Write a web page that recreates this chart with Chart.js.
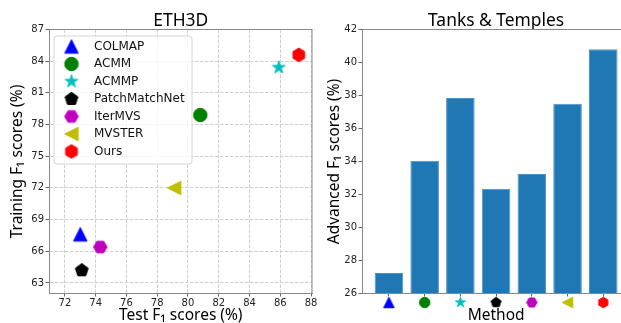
<!DOCTYPE html>
<html>
<head>
<meta charset="utf-8">
<script src="https://cdn.jsdelivr.net/npm/chart.js@4.4.1/dist/chart.umd.min.js"></script>
<style>
  html, body { margin: 0; padding: 0; background: #fff; overflow: hidden; }
  #wrap { position: relative; width: 621px; height: 323px; overflow: hidden; }
  canvas { position: absolute; top: 0; }
  #eth { left: 0; }
  #tnt { left: 320px; }
</style>
</head>
<body>
<div id="wrap">
  <canvas id="eth" width="320" height="323"></canvas>
  <canvas id="tnt" width="320" height="323"></canvas>
</div>
<script>
// methods, same order in both panels
var methods = ["COLMAP", "ACMM", "ACMMP", "PatchMatchNet", "IterMVS", "MVSTER", "Ours"];

// ETH3D: test / training F1 (%)
var testF1 = [73.0, 80.8, 85.9, 73.1, 74.3, 79.1, 87.2];
var trainF1 = [67.6, 78.9, 83.4, 64.2, 66.4, 72.0, 84.6];

// Tanks & Temples advanced F1 (%)
var tntF1 = [27.25, 34.05, 37.85, 32.35, 33.25, 37.5, 40.8];

// tick labels
var ethXTicks = [72, 74, 76, 78, 80, 82, 84, 86, 88];
var ethYTicks = [63, 66, 69, 72, 75, 78, 81, 84, 87];
var tntYTicks = [26, 28, 30, 32, 34, 36, 38, 40, 42];

// marker shape + colour per method (matplotlib style codes)
var markerShapes = ["^", "o", "*", "p", "H", "<", "h"];
var markerColors = ["#0000ff", "#008000", "#00bfbf", "#000000", "#bf00bf", "#bfbf00", "#ff0000"];

function makeMarker(shape, color, size) {
    var s = Math.ceil(size) + 4;
    var c = document.createElement("canvas");
    c.width = s;
    c.height = s;
    var g = c.getContext("2d");
    var r = size / 2;
    g.translate(s / 2, s / 2);
    g.beginPath();
    if (shape === "o") {
        g.arc(0, 0, r, 0, Math.PI * 2);
    } else if (shape === "^") {
        g.moveTo(0, -r); g.lineTo(r, r); g.lineTo(-r, r);
    } else if (shape === "<") {
        g.moveTo(-r, 0); g.lineTo(r, -r); g.lineTo(r, r);
    } else {
        var n = shape === "*" ? 10 : (shape === "p" ? 5 : 6);
        var rot = shape === "H" ? Math.PI / 6 : 0;
        for (var k = 0; k < n; k++) {
            var a = -Math.PI / 2 + rot + k * 2 * Math.PI / n;
            var rr = (shape === "*" && k % 2) ? r * 0.382 : r;
            if (k === 0) g.moveTo(rr * Math.cos(a), rr * Math.sin(a));
            else g.lineTo(rr * Math.cos(a), rr * Math.sin(a));
        }
    }
    g.closePath();
    g.fillStyle = color;
    g.fill();
    g.strokeStyle = color;
    g.lineWidth = 1;
    g.stroke();
    return c;
}

var bigMarkers = markerShapes.map(function(m, i){ return makeMarker(m, markerColors[i], 13.5); });
var smallMarkers = markerShapes.map(function(m, i){ return makeMarker(m, markerColors[i], 10.5); });

var tickFont = { family: "DejaVu Sans", size: 10 };
var labelFont = { family: "Noto Sans", size: 15.5, lineHeight: 1 };
var titleFont = { family: "Noto Sans", size: 17.4, weight: "normal", lineHeight: 1 };

// box around the axes (matplotlib spines)
var frame = {
    id: "frame",
    afterDraw: function(chart) {
        var a = chart.chartArea, ctx = chart.ctx;
        ctx.save();
        ctx.strokeStyle = "#888";
        ctx.lineWidth = 1;
        ctx.strokeRect(a.left, a.top, a.right - a.left, a.bottom - a.top);
        ctx.restore();
    }
};

// legend box in the upper left corner of the ETH3D axes
var legendBox = {
    id: "legendBox",
    afterDatasetsDraw: function(chart) {
        var a = chart.chartArea, ctx = chart.ctx;
        var x0 = a.left + 4.5, y0 = a.top + 6.5;
        ctx.save();
        ctx.fillStyle = "rgba(255,255,255,0.8)";
        ctx.strokeStyle = "#d4d4d4";
        ctx.lineWidth = 1;
        ctx.beginPath();
        ctx.roundRect(x0, y0, 138, 128, 3);
        ctx.fill();
        ctx.stroke();
        ctx.font = "12px 'DejaVu Sans'";
        ctx.fillStyle = "#111";
        ctx.textBaseline = "middle";
        chart.data.datasets.forEach(function(ds, i){
            var cy = y0 + 10.5 + i * 17.5;
            var img = ds.pointStyle;
            ctx.drawImage(img, x0 + 17.5 - img.width / 2, cy - img.height / 2);
            ctx.fillText(ds.label, x0 + 40, cy);
        });
        ctx.restore();
    }
};

// method markers under the bars, in place of tick labels
var tickMarkers = {
    id: "tickMarkers",
    afterDraw: function(chart) {
        var xs = chart.scales.x, ctx = chart.ctx;
        var y = chart.chartArea.bottom + 9;
        methods.forEach(function(m, i){
            var img = smallMarkers[i];
            ctx.drawImage(img, xs.getPixelForValue(i) - img.width / 2, y - img.height / 2);
        });
    }
};

new Chart(document.getElementById("eth"), {
    type: "scatter",
    data: {
        datasets: methods.map(function(m, i){
            return {
                label: m,
                data: [{ x: testF1[i], y: trainF1[i] }],
                pointStyle: bigMarkers[i],
                pointRadius: 7,
                pointHoverRadius: 7
            };
        })
    },
    options: {
        responsive: false,
        animation: false,
        events: [],
        layout: { padding: { left: 0, right: 6.5, top: 0, bottom: 0 } },
        plugins: {
            legend: { display: false },
            tooltip: { enabled: false },
            title: {
                display: true, text: "ETH3D", fullSize: false,
                font: titleFont, color: "#000",
                padding: { top: 12.1, bottom: 0 }
            }
        },
        scales: {
            x: {
                type: "linear", min: 71, max: 88.06,
                afterBuildTicks: function(s){ s.ticks = ethXTicks.map(function(v){ return { value: v }; }); },
                afterFit: function(s){ s.height = 29.5; s.paddingLeft = 0; s.paddingRight = 0; },
                ticks: { font: tickFont, color: "#222", padding: 1, maxRotation: 0, autoSkip: false },
                grid: { color: "#cfcfcf", tickColor: "#666", tickLength: 3 },
                border: { color: "#888", dash: [3.5, 1.5] },
                title: { display: true, text: "Test F\u2081 scores (%)", font: labelFont, color: "#000", padding: { top: 0, bottom: 0 } }
            },
            y: {
                type: "linear", min: 62, max: 87,
                afterBuildTicks: function(s){ s.ticks = ethYTicks.map(function(v){ return { value: v }; }); },
                afterFit: function(s){ s.width = 49.5; s.paddingTop = 0; s.paddingBottom = 0; },
                ticks: { font: tickFont, color: "#222", padding: 1.5 },
                grid: { color: "#cfcfcf", tickColor: "#666", tickLength: 4 },
                border: { color: "#888", dash: [3.5, 1.5] },
                title: { display: true, text: "Training F\u2081 scores (%)", font: labelFont, color: "#000", padding: { top: 9.5, bottom: 0 } }
            }
        }
    },
    plugins: [frame, legendBox]
});

new Chart(document.getElementById("tnt"), {
    type: "bar",
    data: {
        datasets: [{
            label: "Tanks & Temples",
            data: tntF1.map(function(v, i){ return { x: i, y: v }; }),
            backgroundColor: "#1f77b4",
            borderColor: "#4d93cb",
            borderWidth: 1,
            barPercentage: 0.8,
            categoryPercentage: 1
        }]
    },
    options: {
        responsive: false,
        animation: false,
        events: [],
        layout: { padding: { left: 0, right: 10.3, top: 0, bottom: 0 } },
        plugins: {
            legend: { display: false },
            tooltip: { enabled: false },
            title: {
                display: true, text: "Tanks & Temples", fullSize: false,
                font: titleFont, color: "#000",
                padding: { top: 12.1, bottom: 0 }
            }
        },
        scales: {
            x: {
                type: "linear", min: -0.74, max: 6.74, offset: false,
                afterBuildTicks: function(s){ s.ticks = methods.map(function(m, i){ return { value: i }; }); },
                afterFit: function(s){ s.height = 29.5; s.paddingLeft = 0; s.paddingRight = 0; },
                ticks: { callback: function(){ return ""; }, autoSkip: false },
                grid: { offset: false, drawOnChartArea: false, tickColor: "#666", tickLength: 3 },
                border: { color: "#888" },
                title: { display: true, text: "Method", font: labelFont, color: "#000", padding: { top: 0, bottom: 0 } }
            },
            y: {
                type: "linear", min: 26, max: 42,
                afterBuildTicks: function(s){ s.ticks = tntYTicks.map(function(v){ return { value: v }; }); },
                afterFit: function(s){ s.width = 42.5; s.paddingTop = 0; s.paddingBottom = 0; },
                ticks: { font: tickFont, color: "#222", padding: 1.5 },
                grid: { drawOnChartArea: false, tickColor: "#666", tickLength: 4 },
                border: { color: "#888" },
                title: { display: true, text: "Advanced F\u2081 scores (%)", font: labelFont, color: "#000", padding: { top: 6.5, bottom: 0 } }
            }
        }
    },
    plugins: [frame, tickMarkers]
});
</script>
</body>
</html>
